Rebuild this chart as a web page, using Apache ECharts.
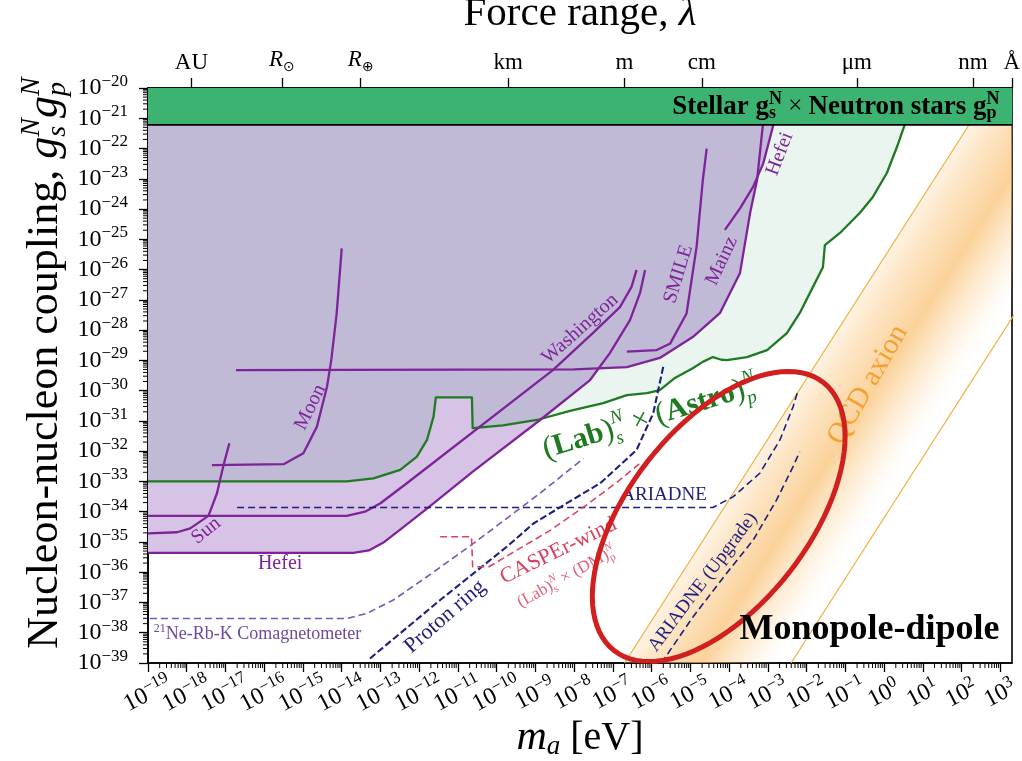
<!DOCTYPE html>
<html>
<head>
<meta charset="utf-8">
<script src="https://cdn.jsdelivr.net/npm/echarts@6/dist/echarts.min.js"></script>
<style>
  html, body { margin: 0; padding: 0; background: #fff; }
  #chart { width: 1022px; height: 761px; }
</style>
</head>
<body>
<div id="chart"></div>
<script>
// Monopole-dipole nucleon-nucleon coupling limits.
// Every point is a pair of decimal exponents: [log10(m_a / eV), log10(g_s^N g_p^N)].

const SERIF = '"Liberation Serif", "DejaVu Serif", serif';

// ---- axes ----
const X_MIN = -19, X_MAX = 3.3, Y_MIN = -39, Y_MAX = -20;
const massExponents = [-19, -18, -17, -16, -15, -14, -13, -12, -11, -10, -9, -8, -7, -6, -5, -4, -3, -2, -1, 0, 1, 2, 3];
const couplingExponents = [-39, -38, -37, -36, -35, -34, -33, -32, -31, -30, -29, -28, -27, -26, -25, -24, -23, -22, -21, -20];

// force range lambda = hbar*c / m_a
const HBAR_C = 1.97327e-7; // eV m
const rangeLengths = [1.496e11, 6.957e8, 6.371e6, 1e3, 1, 1e-2, 1e-6, 1e-9, 1e-10]; // metres
const rangeLabels = ['AU', '{i|R}{o|⊙}', '{i|R}{o|⊕}', 'km', 'm', 'cm', 'μm', 'nm', 'Å'];

// ---- limits ----
const stellarNeutronFloor = -21.22;

const labAstro = [[-19, -33.0], [-13.87, -33.0], [-13.18, -32.9], [-12.49, -32.62], [-12.06, -32.18], [-11.8, -31.63],
  [-11.63, -30.86], [-11.57, -30.22], [-10.64, -30.22], [-10.62, -31.24], [-9.84, -31.15], [-8.96, -30.97],
  [-8.11, -30.67], [-7.25, -30.41], [-6.64, -30.15], [-6.12, -30.08], [-5.79, -29.98], [-5.4, -29.58],
  [-4.94, -29.26], [-4.68, -29.05], [-4.42, -28.89], [-4.2, -28.98], [-4.06, -28.99], [-3.54, -28.89],
  [-3.02, -28.66], [-2.51, -28.1], [-2.18, -27.44], [-1.84, -26.58], [-1.58, -25.92], [-1.53, -25.19],
  [-1.14, -24.79], [-0.63, -24.13], [-0.29, -23.6], [0.07, -22.81], [0.33, -21.95], [0.53, -21.22]];

const hefeiLow = [[-19, -35.36], [-13.7, -35.36], [-13.3, -35.28], [-12.9, -35.0], [-12.5, -34.6], [-11.8, -33.9],
  [-10.6, -32.66], [-8.88, -30.97], [-7.59, -29.65], [-7.08, -28.76], [-6.56, -27.67], [-6.3, -26.77], [-6.17, -26.01]];

const washington = [[-19, -34.14], [-13.87, -34.14], [-13.4, -34.0], [-13.0, -33.72], [-12.32, -33.06],
  [-8.55, -29.32], [-7.52, -28.1], [-6.82, -27.24], [-6.52, -26.57], [-6.39, -26.01]];

const sun = [[-19, -34.72], [-18.25, -34.68], [-17.91, -34.55], [-17.44, -34.14], [-17.22, -33.39], [-17.05, -32.46], [-16.9, -31.74]];

const moon = [[-17.35, -32.46], [-15.5, -32.43], [-14.99, -32.07], [-14.64, -31.19], [-14.38, -29.87], [-14.27, -28.99],
  [-14.13, -27.45], [-14.0, -25.3]];

const mainz = [[-16.73, -29.32], [-8.0, -29.3], [-6.64, -29.22], [-5.79, -28.92], [-4.94, -28.23], [-4.24, -27.44],
  [-3.72, -26.11], [-3.46, -24.13], [-3.28, -23.04], [-3.13, -21.22]];

const smile = [[-6.64, -28.71], [-5.87, -28.66], [-5.52, -28.44], [-5.1, -27.45], [-4.84, -25.24], [-4.68, -23.04], [-4.58, -22.0]];

const hefeiHigh = [[-4.11, -24.69], [-3.72, -23.98], [-3.38, -23.26], [-3.12, -22.49], [-2.86, -21.22]];

// projected sensitivities
const comagnetometer = [[-18.95, -37.53], [-13.87, -37.53], [-13.35, -37.36], [-12.67, -36.92], [-11.8, -36.15],
  [-10.6, -35.05], [-8.88, -33.39], [-7.76, -32.24]];

const ariadne = [[-16.7, -33.86], [-4.42, -33.86], [-3.9, -33.51], [-3.21, -32.73], [-2.69, -31.63], [-2.35, -30.53], [-2.22, -29.98]];

const ariadneUpgrade = [[-5.75, -39.0], [-4.93, -37.47], [-4.07, -36.04], [-3.38, -34.94], [-2.78, -33.62], [-2.35, -32.51], [-2.18, -32.02]];

const protonRing = [[-13.27, -38.85], [-11.46, -36.92], [-9.74, -35.16], [-9.05, -34.39], [-8.19, -33.72], [-7.33, -33.06],
  [-6.39, -31.96], [-5.96, -30.75], [-5.7, -29.2]];

const casperWind = [[-11.46, -34.83], [-10.65, -34.83], [-10.62, -35.82], [-10.2, -35.82], [-9.48, -35.27], [-8.61, -34.61],
  [-7.68, -33.78], [-6.82, -32.95], [-6.3, -32.4]];

// QCD axion band edges (g_s g_p grows as m_a^2)
const qcdEdgeLow = [[-6.7, -39.0], [2.8, -20.0]];
const qcdEdgeHigh = [[-2.4, -39.0], [7.1, -20.0]];

// highlighted region: centre and the two semi-axis vectors
const focusCentre = [-4.27, -34.16];
const focusAxisA = [2.70, 4.43];
const focusAxisB = [1.83, -1.83];

// ---- colours ----
const C_PURPLE = '#7e2398';
const C_GREEN = '#1f7a22';
const C_NAVY = '#1e1e7c';
const C_ORANGE = '#f4b043';

// ---- helpers ----
function minorTicks(lo, hi) {
  const out = [];
  for (let d = Math.floor(lo); d < hi; d++) {
    for (let k = 2; k <= 9; k++) {
      const v = d + Math.log10(k);
      if (v > lo && v < hi) out.push(v);
    }
  }
  return out;
}
function segCross(p1, p2, p3, p4) {
  const d = (p2[0] - p1[0]) * (p4[1] - p3[1]) - (p2[1] - p1[1]) * (p4[0] - p3[0]);
  if (Math.abs(d) < 1e-12) return null;
  const t = ((p3[0] - p1[0]) * (p4[1] - p3[1]) - (p3[1] - p1[1]) * (p4[0] - p3[0])) / d;
  const u = ((p3[0] - p1[0]) * (p2[1] - p1[1]) - (p3[1] - p1[1]) * (p2[0] - p1[0])) / d;
  if (t >= 0 && t <= 1 && u >= 0 && u <= 1) return [p1[0] + t * (p2[0] - p1[0]), p1[1] + t * (p2[1] - p1[1])];
  return null;
}
// follow a until it first meets b, then continue along b
function joinAtCrossing(a, b) {
  for (let i = 0; i < a.length - 1; i++) {
    for (let j = 0; j < b.length - 1; j++) {
      const p = segCross(a[i], a[i + 1], b[j], b[j + 1]);
      if (p) return a.slice(0, i + 1).concat([p], b.slice(j + 1));
    }
  }
  return a.slice();
}
function closeUpward(edge) {
  const last = edge[edge.length - 1];
  return edge.concat([[last[0], Y_MAX + 1], [X_MIN - 1, Y_MAX + 1], [X_MIN - 1, edge[0][1]]]);
}
const supText = n => (n < 0 ? '−' : '') + Math.abs(n);

const labEnvelope = joinAtCrossing(joinAtCrossing(hefeiLow, mainz), hefeiHigh);
const bothEnvelope = joinAtCrossing(labAstro, labEnvelope);

const rangePositions = rangeLengths.map(l => Math.log10(HBAR_C / l));
const massMinor = minorTicks(X_MIN, X_MAX);
const couplingMinor = minorTicks(Y_MIN, Y_MAX);

const focusOutline = [];
for (let k = 0; k <= 96; k++) {
  const t = k / 96 * 2 * Math.PI;
  focusOutline.push([
    focusCentre[0] + focusAxisA[0] * Math.cos(t) + focusAxisB[0] * Math.sin(t),
    focusCentre[1] + focusAxisA[1] * Math.cos(t) + focusAxisB[1] * Math.sin(t)
  ]);
}

// ---- series builders ----
function fillArea(name, pts, color, z) {
  return {
    type: 'custom', name, z, silent: true, clip: true, data: [[0]],
    renderItem: (params, api) => ({
      type: 'polygon',
      shape: { points: pts.map(p => api.coord(p)) },
      style: { fill: color, stroke: null }
    })
  };
}
function curve(name, data, color, width, dash, z) {
  return {
    type: 'line', name, data, showSymbol: false, symbol: 'none', silent: true, clip: true,
    z: z || 3,
    lineStyle: { color, width, type: dash || 'solid', cap: 'butt', join: 'round' }
  };
}

// rich-text token styles; every token flows left to right inside its block
function tok(size, extra) {
  return Object.assign({ fontFamily: SERIF, fontSize: size, color: '#000', align: 'left' }, extra || {});
}
const tickRich = {
  b: tok(24, { lineHeight: 30, verticalAlign: 'middle' }),
  s: tok(17, { lineHeight: 17, verticalAlign: 'top' })
};
const expLabel = v => '{b|10}{s|' + supText(Math.round(v)) + '}';

// ---- text placed in data space ----
function lab(size, color, extra) {
  return Object.assign({ fontFamily: SERIF, fontSize: size, fill: color }, extra || {});
}
function colored(c, r) {
  Object.keys(r).forEach(k => { r[k].color = c; });
  return r;
}
const annotations = [
  { text: 'Sun', at: [-17.5, -34.63], rot: 39, s: lab(20, C_PURPLE) },
  { text: 'Moon', at: [-14.81, -30.55], rot: 64, s: lab(20, C_PURPLE) },
  { text: 'Hefei', at: [-15.59, -35.73], rot: 0, s: lab(20, C_PURPLE) },
  { text: 'Washington', at: [-7.85, -27.96], rot: 42, s: lab(20, C_PURPLE) },
  { text: 'SMILE', at: [-5.31, -26.15], rot: 73, s: lab(20, C_PURPLE) },
  { text: 'Mainz', at: [-4.19, -25.71], rot: 65, s: lab(20, C_PURPLE) },
  { text: 'Hefei', at: [-2.69, -22.18], rot: 69, s: lab(20, C_PURPLE) },
  { text: '{u|21}{t|Ne-Rb-K Comagnetometer}', at: [-18.85, -38.04], rot: 0, align: 'left',
    s: lab(18, '#6e4a9c', { rich: colored('#6e4a9c', {
      u: tok(12, { lineHeight: 12, verticalAlign: 'top' }),
      t: tok(18, { lineHeight: 22, verticalAlign: 'middle' }) }) }) },
  { text: 'ARIADNE', at: [-5.68, -33.45], rot: 0, s: lab(19, C_NAVY) },
  { text: 'Proton ring', at: [-11.33, -37.47], rot: 41, s: lab(22, C_NAVY) },
  { text: 'CASPEr-wind', at: [-8.41, -35.3], rot: 26, s: lab(22, '#d8405e') },
  { text: '{r|(Lab)}{a|s}{b|N}{r| × (DM)}{a|p}{b|N}', at: [-8.2, -36.16], rot: 29,
    s: lab(17, '#e0607a', { rich: colored('#e0607a', {
      r: tok(17, { lineHeight: 22, verticalAlign: 'middle' }),
      a: tok(11, { lineHeight: 11, verticalAlign: 'bottom', width: 0 }),
      b: tok(11, { lineHeight: 11, verticalAlign: 'top', fontStyle: 'italic' }) }) }) },
  { text: 'ARIADNE (Upgrade)', at: [-4.68, -36.33], rot: 53, s: lab(19, C_NAVY) },
  { text: 'QCD axion', at: [-0.42, -29.81], rot: 60, s: lab(29, '#f5a030') },
  { text: '{p|(}{g|Lab}{p|)}{a|s}{b|N}{x| × }{p|(}{g|Astro}{p|)}{a|p}{b|N}', at: [-6.04, -30.91], rot: 17,
    s: lab(30, C_GREEN, { rich: colored(C_GREEN, {
      p: tok(32, { lineHeight: 40, verticalAlign: 'middle' }),
      g: tok(30, { lineHeight: 40, verticalAlign: 'middle', fontWeight: 'bold' }),
      x: tok(30, { lineHeight: 40, verticalAlign: 'middle' }),
      a: tok(19, { lineHeight: 19, verticalAlign: 'bottom', fontStyle: 'italic', width: 0 }),
      b: tok(19, { lineHeight: 19, verticalAlign: 'top', fontStyle: 'italic' }) }) }) }
];
const headlines = [
  { text: 'Monopole-dipole', at: [2.98, -37.91], rot: 0, align: 'right', s: lab(36, '#000', { fontWeight: 'bold' }) },
  { text: '{w|Stellar g}{a|s}{b|N}{x| × }{w|Neutron stars g}{a|p}{b|N}', at: [2.98, -20.62], rot: 0, align: 'right',
    s: lab(27, '#000', { rich: {
      w: tok(27, { lineHeight: 32, verticalAlign: 'middle', fontWeight: 'bold' }),
      x: tok(25, { lineHeight: 32, verticalAlign: 'middle' }),
      a: tok(18, { lineHeight: 18, verticalAlign: 'bottom', fontWeight: 'bold', width: 0 }),
      b: tok(18, { lineHeight: 18, verticalAlign: 'top', fontWeight: 'bold' }) } }) }
];
function textSeries(name, list, z) {
  return {
    type: 'custom', name, z, silent: true, clip: false, data: list.map((a, i) => [i]),
    renderItem: (params, api) => {
      const a = list[params.dataIndex];
      const p = api.coord(a.at);
      const align = a.align || 'center';
      return {
        type: 'text', x: p[0], y: p[1], rotation: a.rot * Math.PI / 180,
        style: Object.assign({ text: a.text, align, verticalAlign: 'middle', textAlign: align, textVerticalAlign: 'middle' }, a.s)
      };
    }
  };
}

const option = {
  animation: false,
  backgroundColor: '#fff',
  grid: { left: 148, top: 88, width: 864, height: 575, show: true, borderColor: '#000', borderWidth: 1.6,
    backgroundColor: 'transparent', containLabel: false, outerBoundsMode: 'none' },
  xAxis: [
    { type: 'value', min: X_MIN, max: X_MAX, position: 'bottom',
      axisLine: { show: true, onZero: false, lineStyle: { color: '#000', width: 1.6 } },
      axisTick: { show: true, customValues: massExponents, length: 9, lineStyle: { color: '#000', width: 1.3 } },
      axisLabel: { show: false },
      splitLine: { show: false } },
    { type: 'value', min: X_MIN, max: X_MAX, position: 'top',
      axisLine: { show: true, onZero: false, lineStyle: { color: '#000', width: 1.6 } },
      axisTick: { show: true, customValues: rangePositions, length: 10, lineStyle: { color: '#000', width: 1.3 } },
      axisLabel: { customValues: rangePositions, margin: 14, color: '#000', fontFamily: SERIF, fontSize: 23,
        showMinLabel: true, showMaxLabel: true,
        formatter: v => {
          let best = 0;
          rangePositions.forEach((r, i) => { if (Math.abs(r - v) < Math.abs(rangePositions[best] - v)) best = i; });
          return rangeLabels[best];
        },
        rich: {
          i: tok(23, { fontStyle: 'italic', lineHeight: 28, verticalAlign: 'middle' }),
          o: { fontFamily: 'DejaVu Sans', fontSize: 14, color: '#000', lineHeight: 14, verticalAlign: 'bottom', align: 'left' }
        } },
      splitLine: { show: false } }
  ],
  yAxis: [
    { type: 'value', min: Y_MIN, max: Y_MAX, position: 'left',
      axisLine: { show: true, onZero: false, lineStyle: { color: '#000', width: 1.6 } },
      axisTick: { show: true, customValues: couplingExponents, length: 9, lineStyle: { color: '#000', width: 1.3 } },
      axisLabel: { customValues: couplingExponents, formatter: expLabel, rich: tickRich, margin: 20,
        showMinLabel: true, showMaxLabel: true, hideOverlap: false },
      splitLine: { show: false } }
  ],
  graphic: [
    { type: 'text', x: 580, y: 14, silent: true,
      style: { text: '{n|Force range, }{l|λ}', align: 'center', verticalAlign: 'middle', textAlign: 'center', textVerticalAlign: 'middle',
        rich: { n: tok(41), l: tok(41, { fontStyle: 'italic' }) } } },
    { type: 'text', x: 580, y: 738, silent: true,
      style: { text: '{m|m}{a|a}{t| [eV]}', align: 'center', verticalAlign: 'middle', textAlign: 'center', textVerticalAlign: 'middle',
        rich: { m: tok(42, { fontStyle: 'italic', lineHeight: 44, verticalAlign: 'middle' }),
                a: tok(27, { fontStyle: 'italic', lineHeight: 27, verticalAlign: 'bottom' }),
                t: tok(40, { lineHeight: 44, verticalAlign: 'middle' }) } } },
    { type: 'text', x: 45, y: 363, rotation: Math.PI / 2, silent: true,
      style: { text: '{t|Nucleon-nucleon coupling, }{g|g}{a|s}{b|N}{g|g}{a|p}{b|N}', align: 'center', verticalAlign: 'middle',
        textAlign: 'center', textVerticalAlign: 'middle',
        rich: { t: tok(44, { lineHeight: 54, verticalAlign: 'middle' }),
                g: tok(44, { fontStyle: 'italic', lineHeight: 54, verticalAlign: 'middle' }),
                a: tok(28, { fontStyle: 'italic', lineHeight: 28, verticalAlign: 'bottom', width: 0 }),
                b: tok(28, { fontStyle: 'italic', lineHeight: 28, verticalAlign: 'top' }) } } }
  ],
  series: [
    fillArea('lab limits', closeUpward(labEnvelope), '#d7c3e5', 1),
    fillArea('lab x astro limit', closeUpward(labAstro), '#e9f5ee', 1.1),
    fillArea('combined', closeUpward(bothEnvelope), '#c0bad7', 1.2),
    {
      type: 'custom', name: 'QCD axion', z: 2, silent: true, clip: true, data: [[0]],
      renderItem: (params, api) => {
        const A = api.coord(qcdEdgeLow[0]), B = api.coord(qcdEdgeLow[1]), C = api.coord(qcdEdgeHigh[0]);
        const dx = B[0] - A[0], dy = B[1] - A[1], len = Math.hypot(dx, dy);
        let nx = -dy / len, ny = dx / len;
        let w = (C[0] - A[0]) * nx + (C[1] - A[1]) * ny;
        if (w < 0) { nx = -nx; ny = -ny; w = -w; }
        const pts = [qcdEdgeLow[0], qcdEdgeLow[1], qcdEdgeHigh[1], qcdEdgeHigh[0]].map(p => api.coord(p));
        return {
          type: 'polygon', shape: { points: pts },
          style: { fill: { type: 'linear', x: A[0], y: A[1], x2: A[0] + nx * w, y2: A[1] + ny * w, global: true,
            colorStops: [
              { offset: 0, color: 'rgba(250,200,130,0.22)' },
              { offset: 0.15, color: 'rgba(250,195,120,0.42)' },
              { offset: 0.45, color: 'rgba(249,188,105,0.68)' },
              { offset: 0.72, color: 'rgba(251,205,140,0.28)' },
              { offset: 0.93, color: 'rgba(255,235,210,0)' },
              { offset: 1, color: 'rgba(255,255,255,0)' }
            ] } }
        };
      }
    },
    curve('QCD low edge', qcdEdgeLow, C_ORANGE, 1.3),
    curve('QCD high edge', qcdEdgeHigh, C_ORANGE, 1.3),

    curve('Lab x Astro', labAstro, C_GREEN, 2.3),
    curve('Hefei', hefeiLow, C_PURPLE, 2.3),
    curve('Washington', washington, C_PURPLE, 2.3),
    curve('Sun', sun, C_PURPLE, 2.3),
    curve('Moon', moon, C_PURPLE, 2.3),
    curve('Mainz', mainz, C_PURPLE, 2.3),
    curve('SMILE', smile, C_PURPLE, 2.3),
    curve('Hefei (short range)', hefeiHigh, C_PURPLE, 2.3),

    curve('Comagnetometer', comagnetometer, '#7b55b2', 1.6, [7, 4]),
    curve('ARIADNE', ariadne, C_NAVY, 1.6, [7, 4]),
    curve('ARIADNE (Upgrade)', ariadneUpgrade, C_NAVY, 1.6, [7, 4]),
    curve('Proton ring', protonRing, C_NAVY, 2.1, [7, 3]),
    curve('CASPEr-wind', casperWind, '#dc4460', 1.6, [7, 4]),

    {
      type: 'custom', name: 'Stellar x Neutron stars', z: 4, silent: true, clip: true, data: [[0]],
      renderItem: (params, api) => {
        const p0 = api.coord([X_MIN, Y_MAX]), p1 = api.coord([X_MAX, stellarNeutronFloor]);
        return {
          type: 'group', children: [
            { type: 'rect', shape: { x: p0[0], y: p0[1], width: p1[0] - p0[0], height: p1[1] - p0[1] },
              style: { fill: '#3cb371' } },
            { type: 'line', shape: { x1: p0[0], y1: p1[1], x2: p1[0], y2: p1[1] },
              style: { stroke: '#000', lineWidth: 1.6 } }
          ]
        };
      }
    },
    {
      // logarithmic minor ticks on the mass and coupling axes
      type: 'custom', name: 'minor ticks', z: 8, silent: true, clip: false, data: [[0]],
      renderItem: (params, api) => {
        const children = [];
        massMinor.forEach(v => {
          const p = api.coord([v, Y_MIN]);
          children.push({ type: 'line', shape: { x1: p[0], y1: p[1], x2: p[0], y2: p[1] + 5 }, style: { stroke: '#000', lineWidth: 1 } });
        });
        couplingMinor.forEach(v => {
          const p = api.coord([X_MIN, v]);
          children.push({ type: 'line', shape: { x1: p[0] - 5, y1: p[1], x2: p[0], y2: p[1] }, style: { stroke: '#000', lineWidth: 1 } });
        });
        return { type: 'group', children };
      }
    },
    {
      // slanted decade labels under the mass axis, every decade kept
      type: 'custom', name: 'mass labels', z: 8, silent: true, clip: false,
      data: massExponents.map(v => [v]),
      renderItem: (params, api) => {
        const v = massExponents[params.dataIndex];
        const p = api.coord([v, Y_MIN]);
        return {
          type: 'text', x: p[0], y: p[1] + 31, rotation: 28 * Math.PI / 180,
          style: { text: expLabel(v), rich: tickRich, align: 'center', verticalAlign: 'middle',
            textAlign: 'center', textVerticalAlign: 'middle' }
        };
      }
    },
    textSeries('labels', annotations, 5),
    {
      type: 'custom', name: 'focus', z: 6, silent: true, clip: false, data: [[0]],
      renderItem: (params, api) => ({
        type: 'polygon', shape: { points: focusOutline.map(p => api.coord(p)) },
        style: { fill: null, stroke: '#d11f1f', lineWidth: 5 }
      })
    },
    textSeries('headlines', headlines, 7)
  ]
};

const chart = echarts.init(document.getElementById('chart'), null, { renderer: 'canvas' });
chart.setOption(option);
</script>
</body>
</html>
